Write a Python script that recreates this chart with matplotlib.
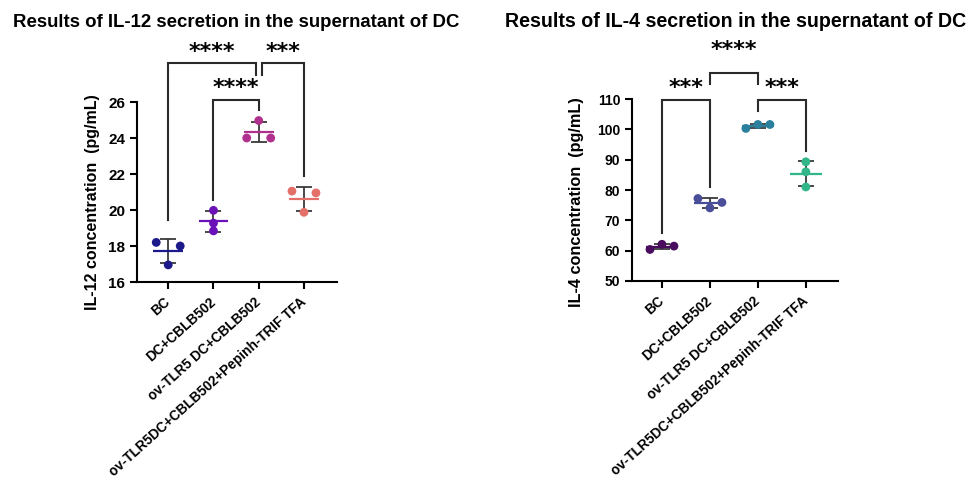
import matplotlib
matplotlib.use("Agg")
import matplotlib.pyplot as plt
import numpy as np

plt.rcParams['font.family'] = ['Liberation Sans', 'DejaVu Sans']
plt.rcParams['font.weight'] = 'bold'

grupos = ["BC", "DC+CBLB502", "ov-TLR5 DC+CBLB502", "ov-TLR5DC+CBLB502+Pepinh-TRIF TFA"]

# IL-12 (pg/mL), three replicates per group
il12_bc = [18.2, 18.0, 16.95]
il12_dc = [19.98, 19.27, 18.84]
il12_ov = [24.97, 24.0, 24.0]
il12_pep = [21.05, 20.95, 19.87]

# IL-4 (pg/mL)
il4_bc = [60.4, 62.1, 61.5]
il4_dc = [77.2, 74.1, 75.9]
il4_ov = [100.3, 101.6, 101.6]
il4_pep = [89.3, 86.0, 81.0]

colores_il12 = ['#1c1a8a', '#6a12b8', '#b0308e', '#e4706a']
colores_il4 = ['#4a0d5e', '#4a4d98', '#2a7f9c', '#33b58a']

# comparaciones: (grupo a, grupo b, altura, fin pata a, fin pata b, etiqueta, recorte a, recorte b, sep texto)
comp_il12 = [
    (0, 2, 28.15, 19.45, 27.5, '****', 0.0, 0.07, 4),
    (2, 3, 28.15, 27.5, 21.9, '***', 0.07, 0.0, 4),
    (1, 2, 26.13, 20.58, 25.53, '****', 0.0, 0.0, 4),
]
comp_il4 = [
    (0, 1, 109.7, 65.8, 81.0, '***', 0.0, 0.0, 4),
    (1, 2, 118.7, 115.0, 115.0, '****', 0.0, 0.0, 12),
    (2, 3, 109.7, 106.0, 92.9, '***', 0.0, 0.0, 4),
]


def desplazamientos(valores, ax, umbral_px=6, ranura_px=12):
    # reparte horizontalmente los puntos que quedan casi a la misma altura
    y0, y1 = ax.get_ylim()
    x0, x1 = ax.get_xlim()
    py = ax.bbox.height / (y1 - y0)
    px = ax.bbox.width / (x1 - x0)
    orden = np.argsort(valores)
    grupos_c = [[orden[0]]]
    for a, b in zip(orden[:-1], orden[1:]):
        if abs(valores[b] - valores[a]) * py < umbral_px:
            grupos_c[-1].append(b)
        else:
            grupos_c.append([b])
    off = np.zeros(len(valores))
    for g in grupos_c:
        g = sorted(g)
        n = len(g)
        if n % 2:
            ranuras = np.arange(n) - (n - 1) / 2
        else:
            ranuras = [k for k in range(-n // 2, n // 2 + 1) if k != 0]
        for idx, r in zip(g, ranuras):
            off[idx] = r * ranura_px / px
    return off


def panel(ax, datos, colores, limites, yticks, comps, tam_y):
    ax.set_xlim(limites[0])
    ax.set_ylim(limites[1])
    for i, (vals, c) in enumerate(zip(datos, colores)):
        vals = np.array(vals)
        media = vals.mean()
        sd = vals.std(ddof=1)
        ax.errorbar(i, media, yerr=sd, fmt='none', ecolor='#3a3a3a',
                    elinewidth=1.3, capsize=6, capthick=1.3, zorder=2)
        xs = i + desplazamientos(vals, ax)
        ax.scatter(xs, vals, s=40, color=c, zorder=3, edgecolors='none')
        ax.hlines(media, i - 0.33, i + 0.33, color=c, lw=1.6, zorder=4)

    for a, b, h, ya, yb, etiqueta, ra, rb, sep in comps:
        xa, xb = a + ra, b - rb
        ax.plot([xa, xa, xb, xb], [ya, h, h, yb], color='#2a2a2a', lw=1.5,
                clip_on=False, zorder=1, solid_joinstyle='miter')
        ax.annotate(etiqueta, ((xa + xb) / 2, h), xytext=(0, sep),
                    textcoords='offset points', ha='center', va='baseline',
                    fontsize=16, fontweight='bold', family='DejaVu Sans',
                    annotation_clip=False)

    ax.set_yticks(yticks)
    ax.set_xticks(range(len(grupos)))
    ax.set_xticklabels(grupos, rotation=42, ha='right', va='center',
                       rotation_mode='anchor', fontweight='bold')
    ax.tick_params(axis='both', direction='out', length=5, width=1.5)
    ax.tick_params(axis='y', labelsize=tam_y)
    ax.tick_params(axis='x', pad=8, labelsize=9.8)
    for s in ['top', 'right']:
        ax.spines[s].set_visible(False)
    for s in ['left', 'bottom']:
        ax.spines[s].set_linewidth(1.5)


fig = plt.figure(figsize=(9.73, 4.86), dpi=100)
ax1 = fig.add_axes([137 / 973, 204 / 486, 200 / 973, 180 / 486])
ax2 = fig.add_axes([632 / 973, 205 / 486, 206 / 973, 182 / 486])

panel(ax1, [il12_bc, il12_dc, il12_ov, il12_pep], colores_il12,
      ((-0.69, 3.73), (16, 26)), [16, 18, 20, 22, 24, 26], comp_il12, 11)
panel(ax2, [il4_bc, il4_dc, il4_ov, il4_pep], colores_il4,
      ((-0.625, 3.67), (50, 110)), [50, 60, 70, 80, 90, 100, 110], comp_il4, 10)

fig.text(93 / 973, 1 - 202 / 486, "IL-12 concentration  (pg/mL)", rotation=90,
         ha='center', va='center', fontsize=11.5, fontweight='bold')
fig.text(577 / 973, 1 - 202 / 486, "IL-4 concentration  (pg/mL)", rotation=90,
         ha='center', va='center', fontsize=11.7, fontweight='bold')

fig.text(13 / 973, 1 - 27 / 486, "Results of IL-12 secretion in the supernatant of DC",
         ha='left', va='baseline', fontsize=13.4, fontweight='bold')
fig.text(505 / 973, 1 - 27 / 486, "Results of IL-4 secretion in the supernatant of DC",
         ha='left', va='baseline', fontsize=14.1, fontweight='bold')

fig.savefig("out.png", dpi=100)
